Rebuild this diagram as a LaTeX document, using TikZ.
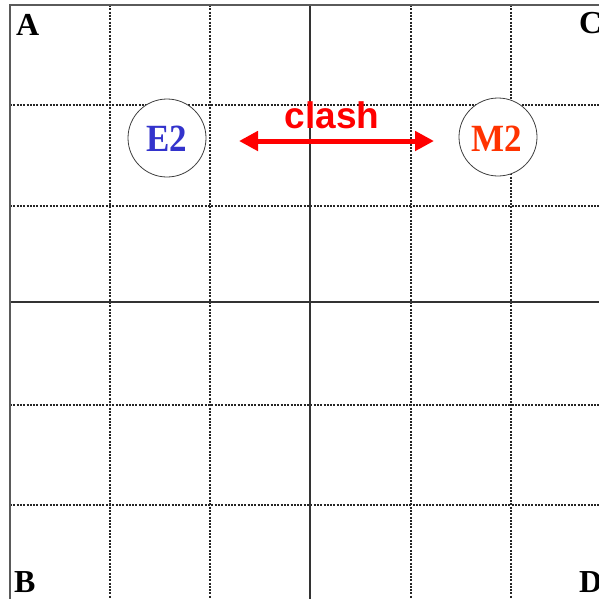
\documentclass[tikz,border=0pt]{standalone}
\usepackage{fontspec}
\setmainfont{Liberation Serif}
\newfontfamily\arialf{Liberation Sans}
\usetikzlibrary{arrows.meta}
\definecolor{eblue}{RGB}{51,51,204}
\definecolor{morange}{RGB}{255,51,0}
\definecolor{bordergray}{RGB}{90,90,90}
\tikzset{
  dotline/.style={line width=1.3pt, dash pattern=on 2pt off 1.3pt, black!85},
  solidline/.style={line width=1.8pt, black!80},
  borderline/.style={line width=2pt, bordergray},
  corner/.style={inner sep=0pt, anchor=base west, font=\fontsize{32}{32}\selectfont\bfseries},
  ball/.style={circle, draw=black!75, line width=0.8pt, fill=white, minimum size=78pt, inner sep=0pt},
  balltext/.style={font=\fontsize{35}{35}\selectfont\bfseries}
}
\begin{document}
\begin{tikzpicture}[x=1pt,y=-1pt]
\useasboundingbox (0,0) rectangle (599,598);
% dotted grid
\foreach \xx in {110,210,411,511} \draw[dotline] (\xx,5) -- (\xx,600);
\foreach \yy in {105,206,405,505} \draw[dotline] (10,\yy) -- (600,\yy);
% solid middle lines
\draw[solidline] (310,5) -- (310,600);
\draw[solidline] (10,302) -- (600,302);
% border
\draw[borderline] (10,600) -- (10,5) -- (600,5);
% corner letters
\node[corner] (A) at (16,35) {A};
\node[corner] (B) at (14,592) {B};
\node[corner] (C) at (579,33) {C};
\node[corner] (D) at (579,592) {D};
% circles
\node[ball] (E2) at (167,138) {};
\node[ball] (M2) at (498,137) {};
\node[balltext, text=eblue, anchor=base] (E2t) at (167,151) {\scalebox{1}[1.1]{E2}};
\node[balltext, text=morange, anchor=base] (M2t) at (497,151) {\scalebox{1}[1.1]{M2}};
% clash arrow
\coordinate (al) at (239,141);
\coordinate (ar) at (434,141);
\draw[red, line width=5pt, {Triangle[length=19pt,width=19pt]}-{Triangle[length=19pt,width=19pt]}] (al) -- (ar);
\node[anchor=base, text=red, inner sep=0pt, font=\arialf\bfseries\fontsize{37}{37}\selectfont] (clash) at (332,128) {clash};
\end{tikzpicture}
\end{document}
